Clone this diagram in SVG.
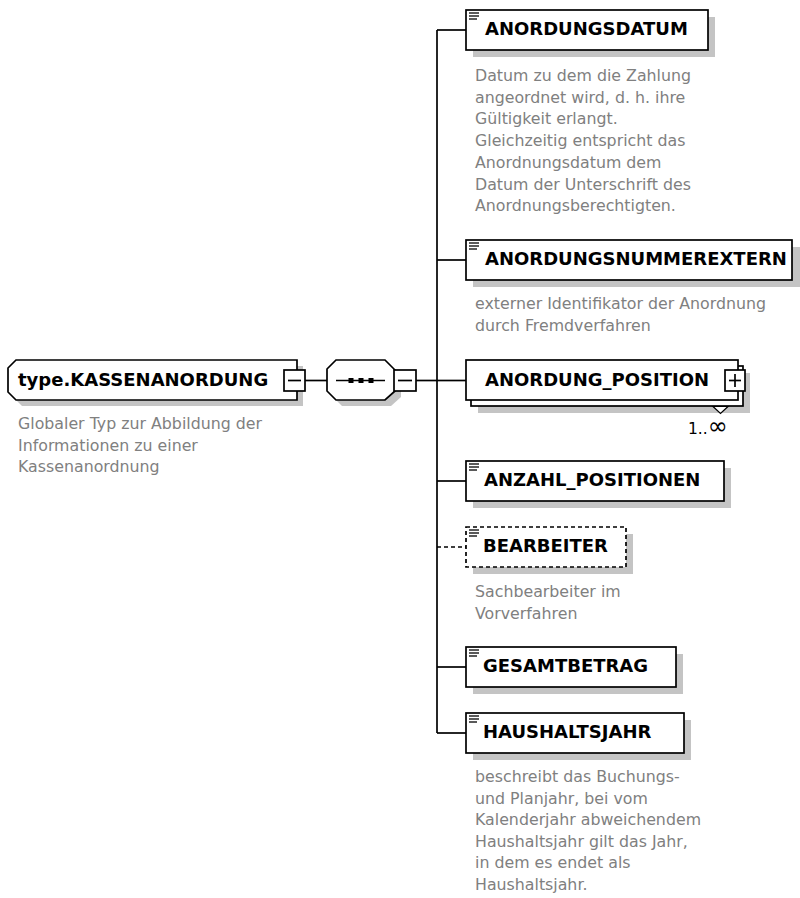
<svg xmlns="http://www.w3.org/2000/svg" width="800" height="898" viewBox="0 0 800 898">
<style>
.bg{fill:#ffffff}
.box{fill:#ffffff;stroke:#000000;stroke-width:1.7}
.dbox{fill:#ffffff;stroke:#000000;stroke-width:1.7;stroke-dasharray:4 3}
.sh{fill:#c4c4c4;stroke:none}
.ln{fill:none;stroke:#000000;stroke-width:1.7}
.dln{fill:none;stroke:#000000;stroke-width:1.7;stroke-dasharray:4 3}
.ic{stroke:#000000;stroke-width:1.3}
.lbl{font-family:"DejaVu Sans",Verdana,sans-serif;font-weight:bold;font-size:18px;fill:#000000}
.doc{font-family:"DejaVu Sans",Verdana,sans-serif;font-size:15.8px;fill:#808080}
.occ{font-family:"DejaVu Sans",Verdana,sans-serif;font-size:15.5px;fill:#000000}
</style>
<rect class="bg" x="0" y="0" width="800" height="898"/>

<g id="connectors">
  <line class="ln" x1="305" y1="380.5" x2="327" y2="380.5"/>
  <line class="ln" x1="416" y1="380.5" x2="437" y2="380.5"/>
  <line class="ln" x1="437" y1="30" x2="437" y2="733"/>
  <line class="ln" x1="437" y1="30" x2="466" y2="30"/>
  <line class="ln" x1="437" y1="260" x2="466" y2="260"/>
  <line class="ln" x1="437" y1="380.5" x2="466" y2="380.5"/>
  <line class="ln" x1="437" y1="481" x2="466" y2="481"/>
  <line class="dln" x1="437" y1="547" x2="466" y2="547"/>
  <line class="ln" x1="437" y1="667" x2="466" y2="667"/>
  <line class="ln" x1="437" y1="733" x2="466" y2="733"/>
</g>

<g id="type-KASSENANORDUNG">
  <polygon class="sh" points="22,366 303,366 303,406 22,406 14,398 14,374"/>
  <polygon class="box" points="16,360 297,360 297,400 16,400 8,392 8,368"/>
  <text class="lbl" x="18" y="386">type.KASSENANORDUNG</text>
  <rect class="box" x="284" y="370" width="21" height="21"/>
  <line class="ln" x1="288" y1="380.5" x2="301" y2="380.5"/>
  <text class="doc" x="18" y="429"><tspan x="18">Globaler Typ zur Abbildung der</tspan><tspan x="18" dy="21.7">Informationen zu einer</tspan><tspan x="18" dy="21.7">Kassenanordnung</tspan></text>
</g>

<g id="sequence">
  <polygon class="sh" points="342,366 391,366 401,376 401,397 391,406 342,406 333,397 333,375"/>
  <polygon class="box" points="336,360 385,360 395,370 395,391 385,400 336,400 327,391 327,369"/>
  <line class="ln" x1="336" y1="380.5" x2="385" y2="380.5"/>
  <rect x="348.5" y="378" width="5" height="5" fill="#000"/>
  <rect x="358.5" y="378" width="5" height="5" fill="#000"/>
  <rect x="368.5" y="378" width="5" height="5" fill="#000"/>
  <rect class="box" x="394" y="370" width="22" height="21"/>
  <line class="ln" x1="398" y1="380.5" x2="412" y2="380.5"/>
</g>

<g id="ANORDUNGSDATUM">
  <rect class="sh" x="473" y="17" width="242" height="40"/>
  <rect class="box" x="466" y="10" width="242" height="40"/>
  <line class="ic" x1="469" y1="13" x2="479" y2="13"/>
  <line class="ic" x1="469" y1="16" x2="479" y2="16"/>
  <line class="ic" x1="469" y1="19" x2="477" y2="19"/>
  <text class="lbl" x="485" y="35">ANORDUNGSDATUM</text>
  <text class="doc" x="475" y="81"><tspan x="475">Datum zu dem die Zahlung</tspan><tspan x="475" dy="21.7">angeordnet wird, d. h. ihre</tspan><tspan x="475" dy="21.7">Gültigkeit erlangt.</tspan><tspan x="475" dy="21.7">Gleichzeitig entspricht das</tspan><tspan x="475" dy="21.7">Anordnungsdatum dem</tspan><tspan x="475" dy="21.7">Datum der Unterschrift des</tspan><tspan x="475" dy="21.7">Anordnungsberechtigten.</tspan></text>
</g>

<g id="ANORDUNGSNUMMEREXTERN">
  <rect class="sh" x="473" y="247" width="327" height="40"/>
  <rect class="box" x="466" y="240" width="326" height="40"/>
  <line class="ic" x1="469" y1="243" x2="479" y2="243"/>
  <line class="ic" x1="469" y1="246" x2="479" y2="246"/>
  <line class="ic" x1="469" y1="249" x2="477" y2="249"/>
  <text class="lbl" x="485" y="265">ANORDUNGSNUMMEREXTERN</text>
  <text class="doc" x="475" y="309"><tspan x="475">externer Identifikator der Anordnung</tspan><tspan x="475" dy="21.7">durch Fremdverfahren</tspan></text>
</g>

<g id="ANORDUNG_POSITION">
  <rect class="sh" x="478" y="373" width="272" height="40"/>
  <rect class="box" x="471" y="366" width="272" height="40"/>
  <rect class="box" x="466" y="360" width="272" height="40"/>
  <text class="lbl" x="485" y="386">ANORDUNG_POSITION</text>
  <rect class="box" x="725" y="370" width="20" height="21"/>
  <line class="ln" x1="729" y1="380.5" x2="741" y2="380.5"/>
  <line class="ln" x1="735" y1="374" x2="735" y2="387"/>
  <polygon points="713,406.5 720.5,413.5 728,406.5" fill="#ffffff" stroke="#000" stroke-width="1.2"/>
  <text class="occ" x="688" y="434">1..<tspan font-size="24px">∞</tspan></text>
</g>

<g id="ANZAHL_POSITIONEN">
  <rect class="sh" x="473" y="468" width="258" height="40"/>
  <rect class="box" x="466" y="461" width="258" height="40"/>
  <line class="ic" x1="469" y1="464" x2="479" y2="464"/>
  <line class="ic" x1="469" y1="467" x2="479" y2="467"/>
  <line class="ic" x1="469" y1="470" x2="477" y2="470"/>
  <text class="lbl" x="484" y="486">ANZAHL_POSITIONEN</text>
</g>

<g id="BEARBEITER">
  <rect class="sh" x="473" y="534" width="160" height="40"/>
  <rect class="dbox" x="466" y="527" width="160" height="40"/>
  <line class="ic" x1="469" y1="530" x2="479" y2="530"/>
  <line class="ic" x1="469" y1="533" x2="479" y2="533"/>
  <line class="ic" x1="469" y1="536" x2="477" y2="536"/>
  <text class="lbl" x="483" y="552">BEARBEITER</text>
  <text class="doc" x="475" y="597"><tspan x="475">Sachbearbeiter im</tspan><tspan x="475" dy="21.7">Vorverfahren</tspan></text>
</g>

<g id="GESAMTBETRAG">
  <rect class="sh" x="473" y="654" width="210" height="40"/>
  <rect class="box" x="466" y="647" width="210" height="40"/>
  <line class="ic" x1="469" y1="650" x2="479" y2="650"/>
  <line class="ic" x1="469" y1="653" x2="479" y2="653"/>
  <line class="ic" x1="469" y1="656" x2="477" y2="656"/>
  <text class="lbl" x="483" y="672">GESAMTBETRAG</text>
</g>

<g id="HAUSHALTSJAHR">
  <rect class="sh" x="473" y="720" width="218" height="40"/>
  <rect class="box" x="466" y="713" width="218" height="40"/>
  <line class="ic" x1="469" y1="716" x2="479" y2="716"/>
  <line class="ic" x1="469" y1="719" x2="479" y2="719"/>
  <line class="ic" x1="469" y1="722" x2="477" y2="722"/>
  <text class="lbl" x="483" y="738">HAUSHALTSJAHR</text>
  <text class="doc" x="475" y="782"><tspan x="475">beschreibt das Buchungs-</tspan><tspan x="475" dy="21.5">und Planjahr, bei vom</tspan><tspan x="475" dy="21.5">Kalenderjahr abweichendem</tspan><tspan x="475" dy="21.5">Haushaltsjahr gilt das Jahr,</tspan><tspan x="475" dy="21.5">in dem es endet als</tspan><tspan x="475" dy="21.5">Haushaltsjahr.</tspan></text>
</g>
</svg>
